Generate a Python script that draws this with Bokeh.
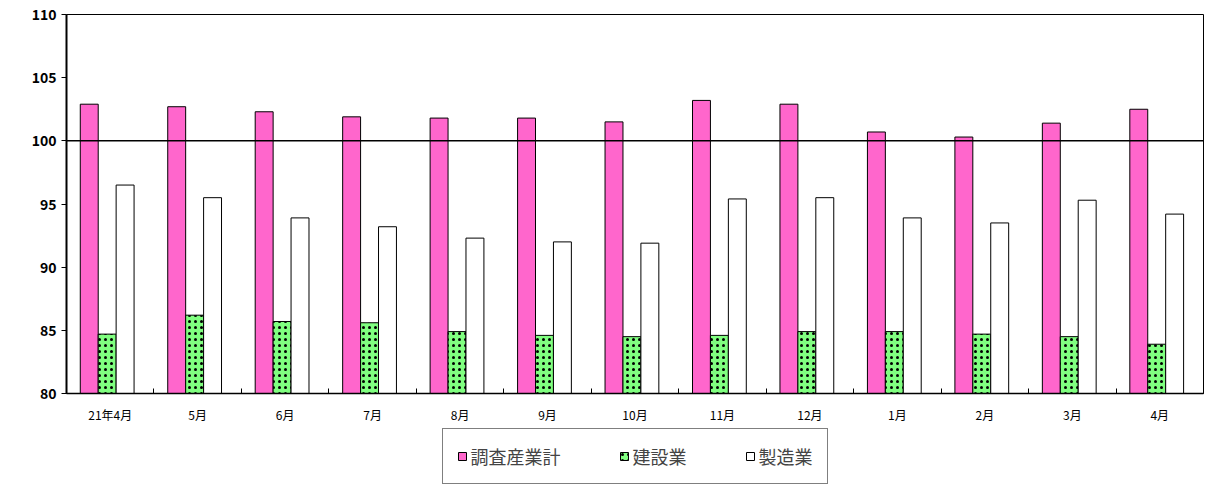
from bokeh.plotting import figure
from bokeh.layouts import column
from bokeh.models import FixedTicker, Legend, LegendItem, Span
from bokeh.embed import file_html
from bokeh.resources import INLINE

months = ["21年4月", "5月", "6月", "7月", "8月", "9月", "10月", "11月", "12月", "1月", "2月", "3月", "4月"]
total = [102.9, 102.7, 102.3, 101.9, 101.8, 101.8, 101.5, 103.2, 102.9, 100.7, 100.3, 101.4, 102.5]
construction = [84.7, 86.2, 85.7, 85.6, 84.9, 84.6, 84.5, 84.6, 84.9, 84.9, 84.7, 84.5, 83.9]
manufacturing = [96.5, 95.5, 93.9, 93.2, 92.3, 92.0, 91.9, 95.4, 95.5, 93.9, 93.5, 95.3, 94.2]
series_names = ["調査産業計", "建設業", "製造業"]

FONT = "Noto Sans CJK JP"
n = len(months)
centers = [i + 0.5 for i in range(n)]
w = 0.205
styles = [dict(fill_color="#ff66cc", line_color="black"),
          dict(fill_color="#80ff80", line_color="black", hatch_pattern="dot",
               hatch_color="black", hatch_scale=6, hatch_weight=5),
          dict(fill_color="white", line_color="black")]

p = figure(width=1206, height=425, x_range=(0, n), y_range=(80, 110),
           output_backend="svg", toolbar_location=None,
           min_border_left=66, min_border_right=3, min_border_top=14, min_border_bottom=0)
p.grid.grid_line_color = None
p.outline_line_color = "black"

offsets = [-0.24, -0.035, 0.17]
for vals, off, st in zip([total, construction, manufacturing], offsets, styles):
    p.vbar(x=[c + off for c in centers], top=vals, bottom=80, width=w, line_width=1, **st)

p.add_layout(Span(location=100, dimension="width", line_color="black", line_width=1.5))

p.xaxis.ticker = FixedTicker(ticks=centers, minor_ticks=list(range(n + 1)))
p.xaxis.major_label_overrides = {c: m for c, m in zip(centers, months)}
p.xaxis.major_tick_line_color = None
p.xaxis.minor_tick_in = 5
p.xaxis.minor_tick_out = 0
p.xaxis.major_label_text_font = FONT
p.xaxis.major_label_text_font_size = "12px"
p.xaxis.major_label_text_color = "black"
p.xaxis.major_label_standoff = 6
p.xaxis.axis_line_width = 1.5

p.yaxis.ticker = FixedTicker(ticks=list(range(80, 111, 5)), minor_ticks=[])
p.yaxis.major_tick_in = 0
p.yaxis.major_tick_out = 5
p.yaxis.major_label_text_font = FONT
p.yaxis.major_label_text_font_size = "14px"
p.yaxis.major_label_text_font_style = "bold"
p.yaxis.major_label_text_color = "black"
p.yaxis.axis_line_width = 2

# legend lives in its own strip below the chart
q = figure(width=1206, height=61, x_range=(0, 1), y_range=(0, 1),
           output_backend="svg", toolbar_location=None,
           min_border=0, outline_line_color=None)
q.axis.visible = False
q.grid.visible = False
items = []
for name, st in zip(series_names, styles):
    r = q.vbar(x=[-10], top=[-10], bottom=-11, width=0.1, line_width=1, **st)
    items.append(LegendItem(label=name, renderers=[r]))
legend = Legend(items=items, orientation="horizontal", location="center",
                border_line_color="black", border_line_width=1.5,
                label_text_font=FONT, label_text_font_size="18px",
                glyph_width=10, glyph_height=10, label_standoff=4,
                spacing=58, padding=14, margin=0)
q.add_layout(legend, "center")

open("out.html", "w").write(file_html(column(p, q, spacing=0), INLINE))
